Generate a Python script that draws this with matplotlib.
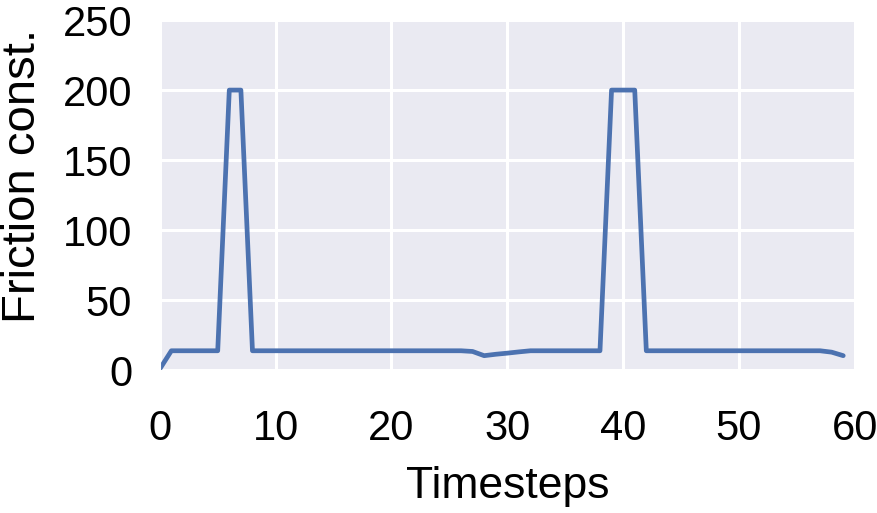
import matplotlib

matplotlib.use("Agg")

import matplotlib.pyplot as plt
import seaborn as sns

timesteps = list(range(60))
friction = [
    1, 14, 14, 14, 14, 14, 200, 200, 14, 14,
    14, 14, 14, 14, 14, 14, 14, 14, 14, 14,
    14, 14, 14, 14, 14, 14, 14, 13.5, 10.5, 11.5,
    12.3, 13.2, 14, 14, 14, 14, 14, 14, 14, 200,
    200, 200, 14, 14, 14, 14, 14, 14, 14, 14,
    14, 14, 14, 14, 14, 14, 14, 14, 13, 10.5,
]

x_ticks = [0, 10, 20, 30, 40, 50, 60]
y_ticks = [0, 50, 100, 150, 200, 250]

sns.set_style("darkgrid")
plt.rcParams["font.family"] = ["Liberation Sans", "DejaVu Sans"]
plt.rcParams["text.color"] = "black"
plt.rcParams["xtick.color"] = "black"
plt.rcParams["ytick.color"] = "black"
plt.rcParams["axes.labelcolor"] = "black"

fig = plt.figure(figsize=(8.78, 5.13), dpi=100)
ax = fig.add_axes([0.182, 0.278, 0.7916, 0.683])

ax.plot(timesteps, friction, color="#4C72B0", linewidth=3.4)
ax.set_xlim(0, 60)
ax.set_ylim(0, 250)
ax.set_xticks(x_ticks)
ax.set_yticks(y_ticks)
ax.grid(color="white", linewidth=2.2)
ax.tick_params(axis="both", labelsize=30, length=0)
ax.tick_params(axis="x", pad=28)
ax.tick_params(axis="y", pad=20)
ax.set_xlabel("Timesteps", fontsize=32, labelpad=12)
ax.set_ylabel("Friction const.", fontsize=34)
ax.yaxis.set_label_coords(-0.165, 0.555)

fig.savefig("out.png", dpi=100)
plt.close(fig)
